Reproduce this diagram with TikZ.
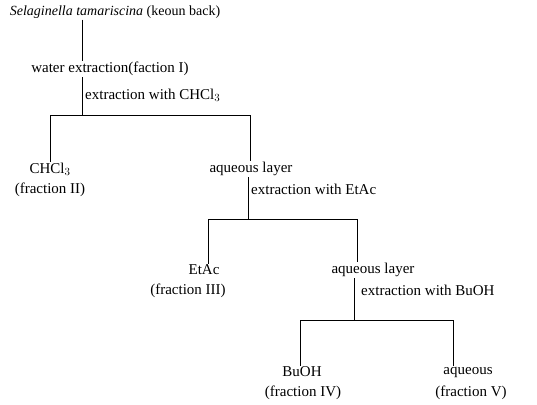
\documentclass[tikz,border=0pt]{standalone}
\usepackage{fontspec}
\setmainfont{Liberation Serif}
\usetikzlibrary{positioning}

\begin{document}
\begin{tikzpicture}[
    x=1pt, y=-1pt,
    sample/.style={font=\fontsize{15}{17}\selectfont, inner sep=1pt},
    steplabel/.style={sample, anchor=west},
    branch/.style={draw, line width=0.6pt}
]
    \useasboundingbox (0,0) rectangle (537,404);

    % Crude material and first fraction
    \node[sample, font=\fontsize{14}{16}\selectfont] (src) at (115, 12) {\textit{Selaginella tamariscina} (keoun back)};
    \node[sample] (f1) at (110, 69) {water extraction(faction I)};

    % CHCl3 partition
    \coordinate (s1) at (82, 115);
    \coordinate (l1) at (50, 115);
    \coordinate (r1) at (250, 115);
    \node[steplabel] (e1) at (84, 95) {extraction with CHCl$_3$};
    \node[sample] (c1) at (50, 169) {CHCl$_3$};
    \node[sample] (fr2) at (50, 190) {(fraction II)};
    \node[sample] (aq1) at (251, 169) {aqueous layer};

    % EtAc partition
    \coordinate (s2) at (248, 219);
    \coordinate (l2) at (208, 219);
    \coordinate (r2) at (357, 219);
    \node[steplabel] (e2) at (250, 189) {extraction with EtAc};
    \node[sample] (c2) at (204, 270) {EtAc};
    \node[sample] (fr3) at (188, 291) {(fraction III)};
    \node[sample] (aq2) at (373, 270) {aqueous layer};

    % BuOH partition
    \coordinate (s3) at (354, 320);
    \coordinate (l3) at (300, 320);
    \coordinate (r3) at (453, 320);
    \node[steplabel] (e3) at (360, 290) {extraction with BuOH};
    \node[sample] (c3) at (302, 372) {BuOH};
    \node[sample] (fr4) at (303, 393) {(fraction IV)};
    \node[sample] (c4) at (468, 372) {aqueous};
    \node[sample] (fr5) at (471, 393) {(fraction V)};

    % Connectors
    \draw[branch] (src.south -| s1) -- (f1.north -| s1);
    \draw[branch] (f1.south -| s1) -- (s1);
    \draw[branch] (l1) -- (r1);
    \draw[branch] (l1) -- (l1 |- c1.north);
    \draw[branch] (r1) -- (r1 |- aq1.north);

    \draw[branch] (aq1.south -| s2) -- (s2);
    \draw[branch] (l2) -- (r2);
    \draw[branch] (l2) -- (l2 |- c2.north);
    \draw[branch] (r2) -- (r2 |- aq2.north);

    \draw[branch] (aq2.south -| s3) -- (s3);
    \draw[branch] (l3) -- (r3);
    \draw[branch] (l3) -- (l3 |- c3.north);
    \draw[branch] (r3) -- (r3 |- c4.north);
\end{tikzpicture}
\end{document}
